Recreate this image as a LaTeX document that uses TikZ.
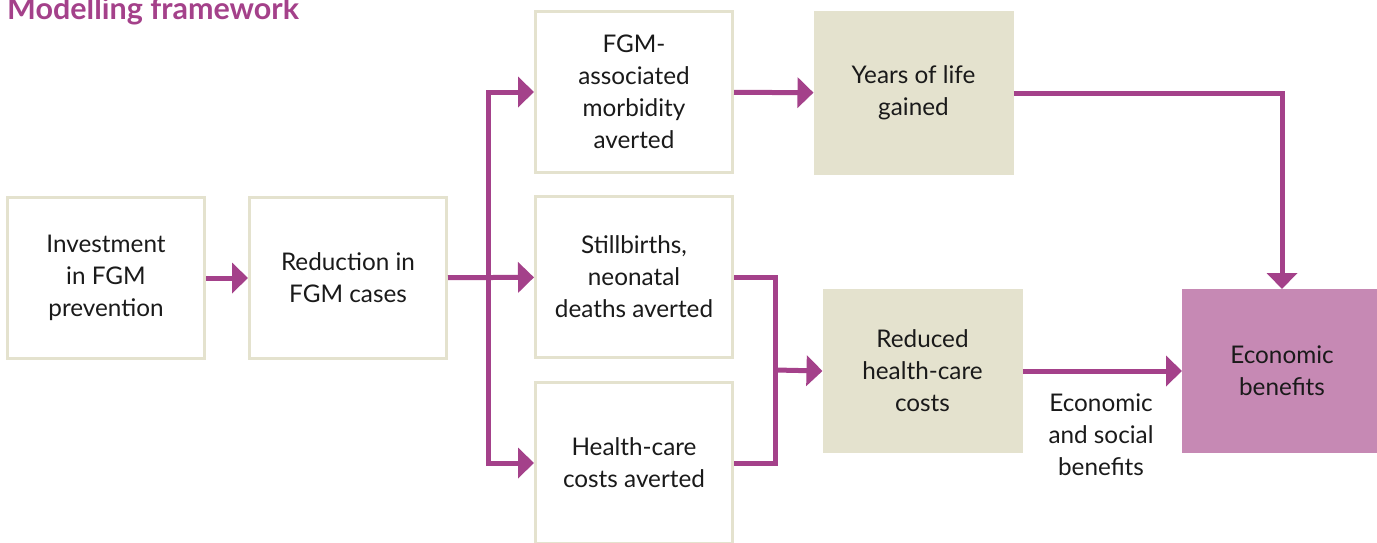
\documentclass[tikz,border=0pt]{standalone}
\usepackage{fontspec}
\setmainfont{Lato}
\usetikzlibrary{arrows.meta}
\definecolor{plum}{HTML}{A4418A}
\definecolor{beige}{HTML}{E4E2CE}
\definecolor{econpink}{HTML}{C689B4}
\definecolor{txt}{HTML}{1A1A1A}
\begin{document}
\begin{tikzpicture}[x=1pt,y=-1pt,
  box/.style={draw=beige, line width=3pt, fill=white, minimum width=197pt, minimum height=161pt,
    align=center, inner sep=0pt, text=txt, font=\fontsize{24.3}{32}\selectfont},
  fbox/.style={box, fill=beige},
  ebox/.style={box, draw=econpink, fill=econpink},
  arr/.style={draw=plum, line width=5pt, -{Triangle[length=16pt,width=30pt]}},
  conn/.style={draw=plum, line width=5pt}]
\useasboundingbox (0,0) rectangle (1377,542);
% title
\node[anchor=base west, inner sep=0pt, text=plum, font=\fontsize{30.5}{32}\selectfont\bfseries] (title) at (7,19) {Modelling framework};
% boxes
\node[box] (inv) at (106,278) {Investment\\in FGM\\prevention};
\node[box] (red) at (348,278) {Reduction in\\FGM cases};
\node[box] (fgm) at (634,92) {FGM-\\associated\\morbidity\\averted};
\node[box] (still) at (634,277) {Stillbirths,\\neonatal\\deaths averted};
\node[box] (hc) at (634,463) {Health-care\\costs averted};
\node[fbox] (years) at (913.5,93) {Years of life\\gained};
\node[fbox] (rhc) at (922.5,371) {Reduced\\health-care\\costs};
\node[ebox] (econ) at (1282,371) {Economic\\benefits};
\node[align=center, inner sep=0pt, text=txt, font=\fontsize{24.3}{32}\selectfont] (lab) at (1101,435) {Economic\\and social\\benefits};
% connectors
\coordinate (jt) at (488,277);
\coordinate (bx) at (775,370);
\draw[arr] (inv) -- (red);
\draw[arr] (red) -- (still);
\draw[arr] (jt) |- (fgm.west);
\draw[arr] (jt) |- (hc.west);
\draw[conn] (still.east) -| (bx);
\draw[conn] (hc.east) -| (bx);
\draw[arr] (bx) -- (rhc.west);
\draw[arr] (fgm) -- (years);
\draw[arr] (years.east) -| (econ.north);
\draw[arr] (rhc) -- (econ);
\end{tikzpicture}
\end{document}
